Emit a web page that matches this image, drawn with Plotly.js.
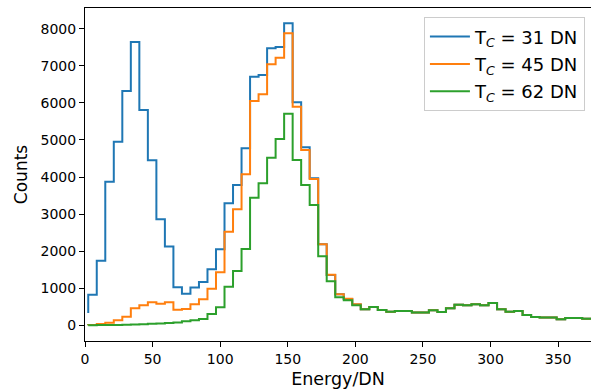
<!DOCTYPE html>
<html>
<head>
<meta charset="utf-8">
<script src="https://cdn.plot.ly/plotly-3.0.1.min.js"></script>
<style>
  html, body { margin: 0; padding: 0; background: #fff; }
  #chart { width: 591px; height: 390px; }
</style>
</head>
<body>
<div id="chart"></div>
<script>
// Energy (DN) at each step point (bin right edges; first is the left start)
const energy = [2.4, 8.7, 15.0, 21.3, 27.6, 33.9, 40.2, 46.5, 52.8, 59.1,
  65.4, 71.7, 78.0, 84.3, 90.6, 96.9, 103.2, 109.5, 115.8, 122.1,
  128.4, 134.7, 141.0, 147.3, 153.6, 159.9, 166.2, 172.5, 178.8, 185.1,
  191.4, 197.7, 204.0, 210.3, 216.6, 222.9, 229.2, 235.5, 241.8, 248.1,
  254.4, 260.7, 267.0, 273.3, 279.6, 285.9, 292.2, 298.5, 304.8, 311.1,
  317.4, 323.7, 330.0, 336.3, 342.6, 348.9, 355.2, 361.5, 367.8, 374.1, 380.4];

const countsT31 = [335, 825, 1740, 3874, 4953, 6320, 7642, 5808, 4451, 2859,
  2130, 1025, 855, 1020, 1172, 1510, 2050, 3290, 3784, 4774,
  6706, 6751, 7471, 7506, 8145, 6014, 4801, 3965, 2185, 1360,
  838, 712, 562, 431, 494, 413, 368, 386, 386, 350,
  350, 404, 360, 458, 557, 539, 566, 539, 601, 431,
  368, 386, 278, 224, 215, 215, 162, 197, 197, 180, 175];

const countsT45 = [0, 10, 35, 72, 135, 233, 458, 539, 620, 584,
  620, 422, 440, 566, 705, 990, 1429, 2525, 3129, 4073,
  6050, 6230, 7040, 7218, 7875, 5897, 4729, 3946, 2190, 1365,
  840, 715, 566, 431, 494, 413, 368, 386, 386, 350,
  350, 404, 360, 458, 557, 539, 566, 539, 601, 431,
  368, 386, 278, 224, 215, 215, 162, 197, 197, 180, 175];

const countsT62 = [0, 5, 8, 10, 12, 15, 22, 30, 40, 50,
  65, 80, 110, 140, 172, 305, 485, 1041, 1465, 2058,
  3442, 3830, 4521, 5025, 5708, 4459, 3784, 3245, 1865, 1190,
  755, 680, 539, 431, 494, 413, 368, 386, 386, 350,
  350, 404, 360, 458, 557, 539, 566, 539, 601, 431,
  368, 386, 278, 224, 215, 215, 162, 197, 197, 180, 175];

const seriesNames = ['T<sub><i>C</i></sub> = 31 DN', 'T<sub><i>C</i></sub> = 45 DN', 'T<sub><i>C</i></sub> = 62 DN'];
const seriesColors = ['#1f77b4', '#ff7f0e', '#2ca02c'];
const xTicks = [0, 50, 100, 150, 200, 250, 300, 350];
const yTicks = [0, 1000, 2000, 3000, 4000, 5000, 6000, 7000, 8000];

const allCounts = [countsT31, countsT45, countsT62];
const traces = allCounts.map((c, k) => ({
  x: energy,
  y: c,
  type: 'scatter',
  mode: 'lines',
  line: { shape: 'vh', color: seriesColors[k], width: 2 },
  name: seriesNames[k],
  legendgroup: 'g' + k
}));

const font = 'DejaVu Sans, sans-serif';
const layout = {
  width: 591,
  height: 390,
  margin: { l: 85, r: 0, t: 8, b: 49, pad: 0 },
  paper_bgcolor: '#ffffff',
  plot_bgcolor: '#ffffff',
  font: { family: font, size: 14, color: '#000' },
  showlegend: true,
  legend: {
    x: 0.988, y: 0.972, xanchor: 'right', yanchor: 'top',
    bgcolor: 'rgba(255,255,255,0.8)',
    bordercolor: '#cccccc', borderwidth: 1,
    tracegroupgap: 1,
    itemwidth: 40,
    font: { family: font, size: 18, color: '#000' }
  },
  xaxis: {
    range: [0, 374.3],
    tickmode: 'array', tickvals: xTicks,
    ticks: 'outside', ticklen: 5, tickwidth: 1, tickcolor: '#000',
    showline: true, linecolor: '#000', linewidth: 1, mirror: true,
    showgrid: false, zeroline: false,
    tickfont: { family: font, size: 14, color: '#000' },
    title: { text: 'Energy/DN', font: { family: font, size: 17.5, color: '#000' }, standoff: 6 }
  },
  yaxis: {
    range: [-422, 8559],
    tickmode: 'array', tickvals: yTicks, tickformat: 'd',
    ticks: 'outside', ticklen: 5, tickwidth: 1, tickcolor: '#000',
    showline: true, linecolor: '#000', linewidth: 1, mirror: false,
    showgrid: false, zeroline: false,
    tickfont: { family: font, size: 14, color: '#000' },
    title: { text: 'Counts', font: { family: font, size: 17, color: '#000' }, standoff: 8 }
  }
};

Plotly.newPlot('chart', traces, layout, { staticPlot: true, displayModeBar: false });
</script>
</body>
</html>
